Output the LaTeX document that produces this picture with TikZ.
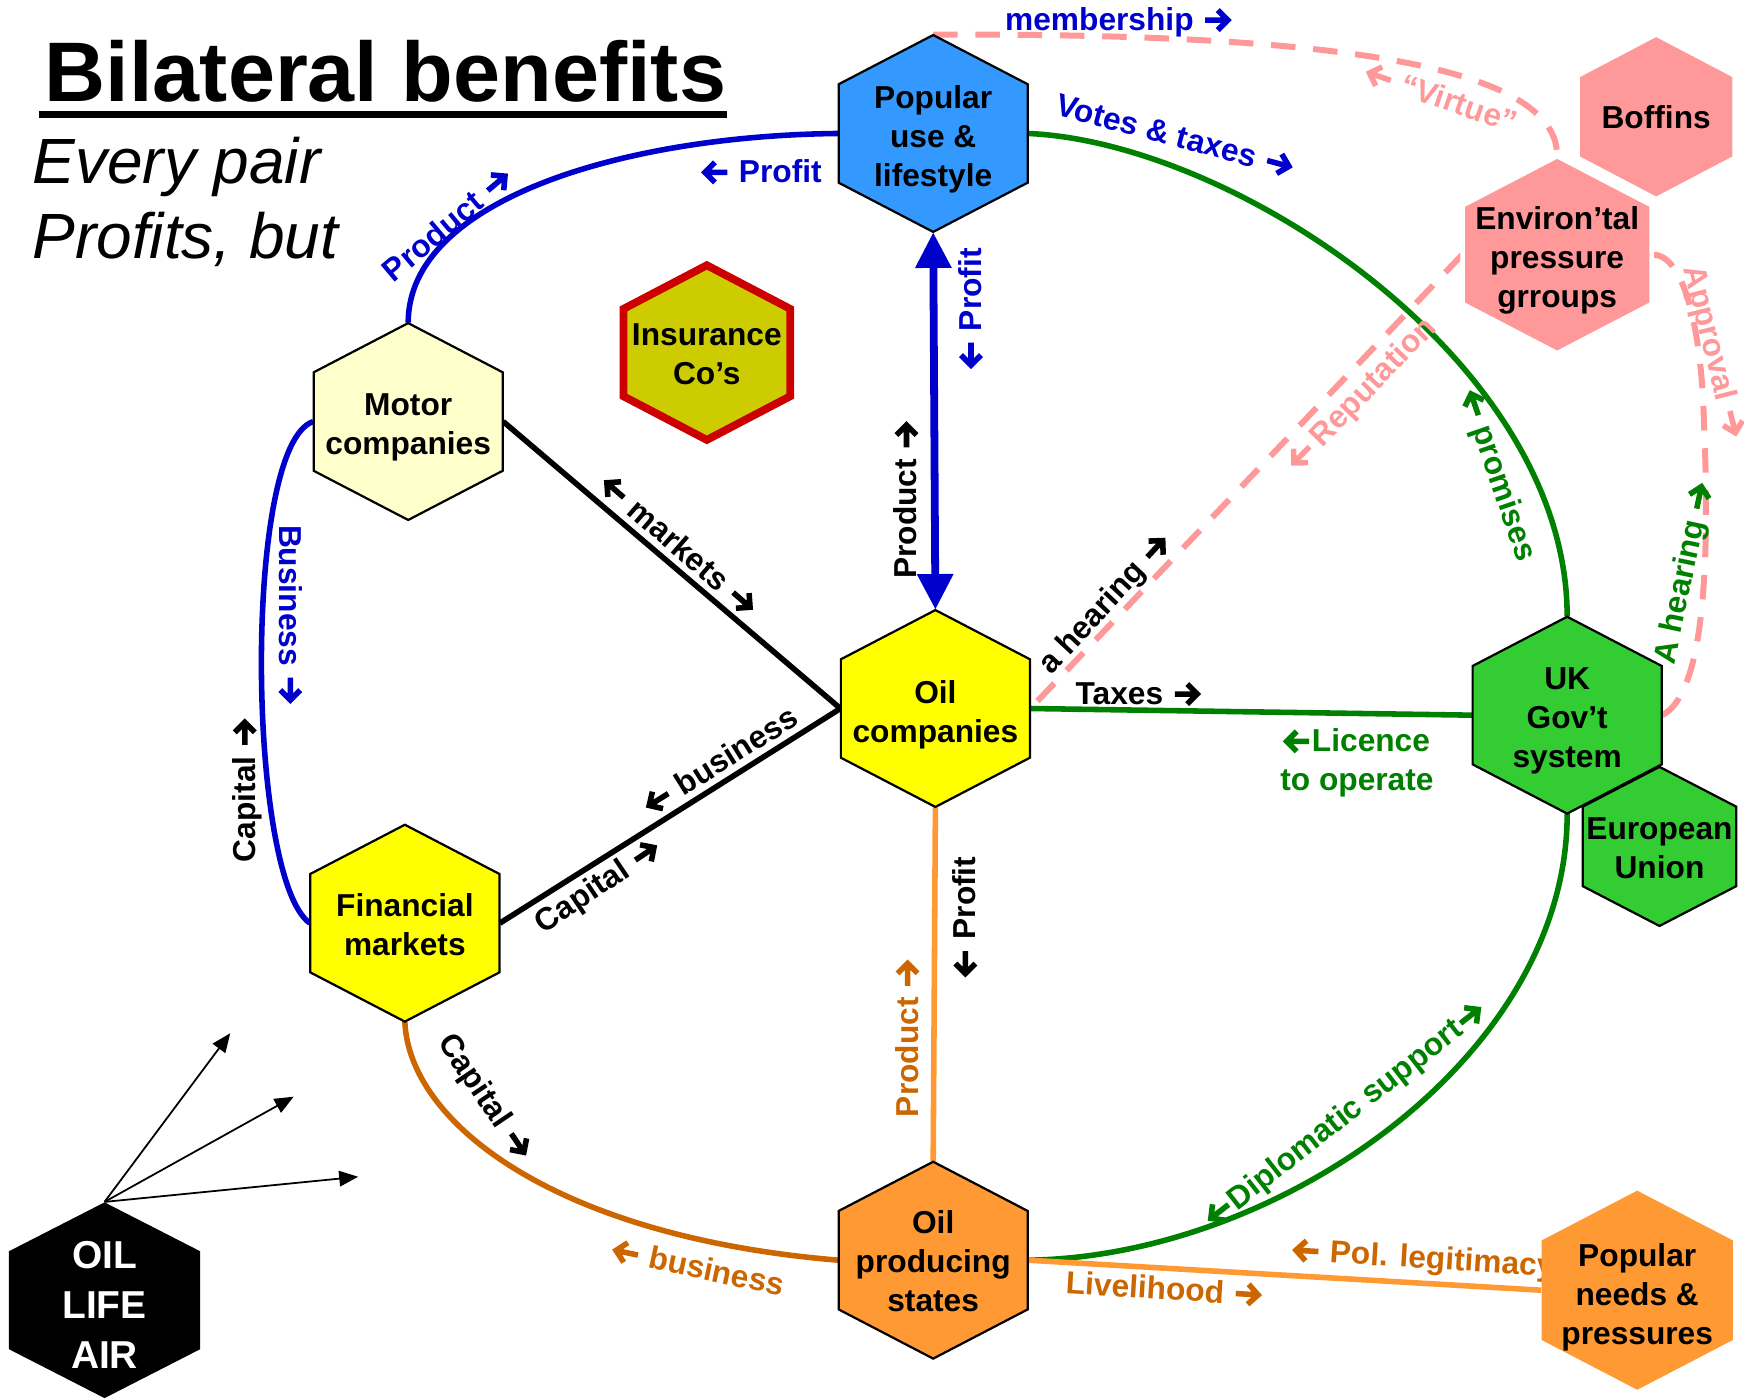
\documentclass[tikz,border=0pt]{standalone}
\usepackage{fontspec}
\setmainfont{Liberation Sans}
\usepackage{graphicx}
\usetikzlibrary{arrows.meta,calc}
\pgfdeclarelayer{bg}
\pgfsetlayers{bg,main}
\newcommand\ra{\tikz[baseline=0pt,x=1pt,y=1pt]{\draw[line width=2.5pt,line cap=butt,line join=miter] (0,4.7) -- (9.2,4.7) (5.6,9.2) -- (10.1,4.7) -- (5.6,0.2);}}
\newcommand\la{\reflectbox{\ra}}
\definecolor{bluel}{HTML}{0000CC}
\definecolor{greenl}{HTML}{008000}
\definecolor{brownl}{HTML}{CC6600}
\definecolor{orangel}{HTML}{FF9933}
\definecolor{pinkl}{HTML}{FF9999}
\definecolor{hexblue}{HTML}{3399FF}
\definecolor{hexyellow}{HTML}{FFFF00}
\definecolor{hexlyellow}{HTML}{FFFFCC}
\definecolor{hexolive}{HTML}{CCCC00}
\definecolor{hexred}{HTML}{CC0000}
\definecolor{hexgreen}{HTML}{33CC33}
\definecolor{hexorange}{HTML}{FF9933}
\tikzset{
  lab/.style={inner sep=0pt, font=\bfseries\fontsize{14.25}{17.5}\selectfont},
  hexanchor/.style={shape=rectangle, inner sep=0pt},
  hextext/.style={inner sep=0pt, align=center, font=\bfseries\fontsize{14.25}{17.5}\selectfont},
  hexstd/.style={draw=black, line width=1pt, line join=miter},
  conn/.style={line width=2.5pt},
  pinkdash/.style={draw=pinkl, line width=2.7pt, dash pattern=on 11pt off 8pt},
  thinarrow/.style={line width=0.8pt, -{Triangle[width=7pt,length=8.5pt]}},
}
% [text node opts]{name}{x}{y}{w}{h}{hex path opts}{text}
\newcommand\hexnode[8][]{%
  \path[#7] ({#3-#5/2},{#4-#6/4}) -- (#3,{#4-#6/2}) -- ({#3+#5/2},{#4-#6/4}) -- ({#3+#5/2},{#4+#6/4}) -- (#3,{#4+#6/2}) -- ({#3-#5/2},{#4+#6/4}) -- cycle;
  \node[hexanchor, minimum width={#5*0.5pt}, minimum height={#6*0.5pt}] (#2) at (#3,#4) {};
  \node[hextext, #1] (#2-t) at (#3,#4) {#8};
}
\begin{document}
\begin{tikzpicture}[x=0.5pt,y=-0.5pt]
\useasboundingbox (0,0) rectangle (1568,1257);

% title
\node[anchor=base west, inner sep=0pt, font=\bfseries\fontsize{38}{45}\selectfont] (title) at (40,91) {Bilateral benefits};
\draw[line width=3pt] ([shift={(-5,12)}]title.base west) -- ([shift={(0,12)}]title.base east);
\node[anchor=base west, inner sep=0pt, font=\itshape\fontsize{28.75}{34}\selectfont] (sub1) at (29,164.6) {Every pair};
\node[anchor=base west, inner sep=0pt, font=\itshape\fontsize{28.75}{34}\selectfont] (sub2) at (29,232) {Profits, but};

% hexagons
\hexnode[yshift=-2.5pt]{pop}{839}{120}{170}{177}{fill=hexblue,hexstd}{Popular\\use \&\\lifestyle}
\hexnode[yshift=-2.5pt]{motor}{367}{379}{170}{177}{fill=hexlyellow,hexstd}{Motor\\companies}
\hexnode[yshift=-0.75pt]{ins}{635.5}{317}{150}{157}{fill=hexolive,draw=hexred,line width=3.5pt,line join=miter}{Insurance\\Co’s}
\hexnode[yshift=-2.75pt]{oilco}{841}{637}{170}{177}{fill=hexyellow,hexstd}{Oil\\companies}
\hexnode[yshift=-0.5pt]{fin}{364}{830}{170}{177}{fill=hexyellow,hexstd}{Financial\\markets}
\hexnode[yshift=-0.5pt]{oilps}{839}{1133}{170}{177}{fill=hexorange,hexstd}{Oil\\producing\\states}
\hexnode[yshift=-2.5pt]{uk}{1409}{643}{170}{177}{fill=hexgreen,hexstd}{UK\\Gov’t\\system}
\hexnode[yshift=-1pt]{eu}{1492}{761}{138}{143}{fill=hexgreen,hexstd}{European\\Union}
\hexnode[yshift=-2.5pt]{env}{1400}{229}{170}{177}{fill=pinkl,draw=white,line width=2pt}{Environ’tal\\pressure\\grroups}
\hexnode{boff}{1489}{105}{141}{148}{fill=pinkl,draw=white,line width=2pt}{Boffins}
\hexnode[yshift=-3pt]{popn}{1472}{1160}{172}{179}{fill=hexorange}{Popular\\needs \&\\pressures}
\hexnode[text=white, font=\bfseries\fontsize{17.5}{22.5}\selectfont, yshift=-2pt]{oil}{94}{1169}{172}{176}{fill=black}{OIL\\LIFE\\AIR}

\coordinate (a1) at (207,929);
\coordinate (a2) at (264,986);
\coordinate (a3) at (322,1058);

\begin{pgfonlayer}{bg}
  % blue
  \draw[conn, bluel] (motor.north) .. controls (367,180) and (560,122) .. (pop.west);
  \draw[conn, bluel] (motor.west) .. controls (218,400) and (222,790) .. (fin.west);
  \draw[bluel, line width=3.5pt, {Triangle[width=15.5pt,length=16pt]}-{Triangle[width=15.5pt,length=16pt]}] (pop.south) -- (oilco.north);
  % green
  \draw[conn, greenl] (pop.east) .. controls (1110,128) and (1409,325) .. (uk.north);
  \draw[conn, greenl] (oilco.east) -- (uk.west);
  \draw[conn, greenl] (uk.south) .. controls (1409,950) and (1150,1130) .. (oilps.east);
  % black
  \draw[conn, black] (motor.east) -- (oilco.west);
  \draw[conn, black] (fin.east) -- (oilco.west);
  % orange / brown
  \draw[conn, brownl] (fin.south) .. controls (368,1010) and (500,1112) .. (oilps.west);
  \draw[conn, orangel] (oilco.south) -- (oilps.north);
  \draw[conn, orangel] (oilps.east) -- (popn.west);
  % pink dashed
  \draw[pinkdash] (pop.north) .. controls (1150,30) and (1400,50) .. (env.north);
  \draw[pinkdash] (env.west) -- (oilco.east);
  \draw[pinkdash] (env.east) .. controls (1515,228) and (1530,300) .. (1532,380) .. controls (1538,520) and (1530,625) .. (uk.east);
  % label hidden behind hexagon
  \node[lab, text=brownl, rotate=-3.5] (lPol) at (1280,1133) {\la\ Pol. legitimacy};
\end{pgfonlayer}

% OIL arrows
\draw[thinarrow] (oil.north) -- (a1);
\draw[thinarrow] (oil.north) -- (a2);
\draw[thinarrow] (oil.north) -- (a3);

% labels
\node[lab, text=bluel, rotate=40] (lProd1) at (402,202) {Product \ra};
\node[lab, text=bluel] (lProf1) at (685,155) {\la\ Profit};
\node[lab, text=bluel, rotate=90] (lProf2) at (873,277) {\la\ Profit};
\node[lab, text=black, rotate=90] (lProd2) at (815,450) {Product \ra};
\node[lab, text=bluel] (lMem) at (1005,20) {membership \ra};
\node[lab, text=bluel, rotate=-15] (lVotes) at (1056,122) {Votes \& taxes \ra};
\node[lab, text=pinkl, rotate=-19] (lVirt) at (1296,88) {\la\ “Virtue”};
\node[lab, text=pinkl, rotate=46] (lRep) at (1225,355) {\la\,Reputation};
\node[lab, rotate=47] (lHear1) at (994,544) {a hearing \ra};
\node[lab, text=greenl, rotate=-71] (lProm) at (1346,428) {\la\ promises};
\node[lab, text=pinkl, rotate=-76] (lAppr) at (1540,316) {Approval \ra};
\node[lab, text=greenl, rotate=78] (lHear2) at (1515,516) {A hearing \ra};
\node[lab, rotate=-41] (lMark) at (610,490) {\la\ markets \ra};
\node[lab, rotate=32] (lBus1) at (648,684) {\la\ business};
\node[lab, rotate=34] (lCap1) at (538,798) {Capital \ra};
\node[lab, text=bluel, rotate=-90] (lBus2) at (261,552) {Business \ra};
\node[lab, rotate=90] (lCap2) at (222,711) {Capital \ra};
\node[lab, rotate=-56] (lCap3) at (435,986) {Capital \ra};
\node[lab, text=brownl, rotate=-12] (lBus3) at (628,1140) {\la\ business};
\node[lab, rotate=90] (lProf3) at (868,824) {\la\ Profit};
\node[lab, text=brownl, rotate=90] (lProd3) at (816,934) {Product \ra};
\node[lab] (lTax) at (1023,624) {Taxes \ra};
\node[lab, text=greenl, align=center] (lLic) at (1220,686) {\la Licence\\to operate};
\node[lab, text=greenl, rotate=38] (lDip) at (1210,1003) {\la Diplomatic support\ra};
\node[lab, text=brownl, rotate=-3.5] (lLive) at (1046,1159) {Livelihood \ra};
\end{tikzpicture}
\end{document}
